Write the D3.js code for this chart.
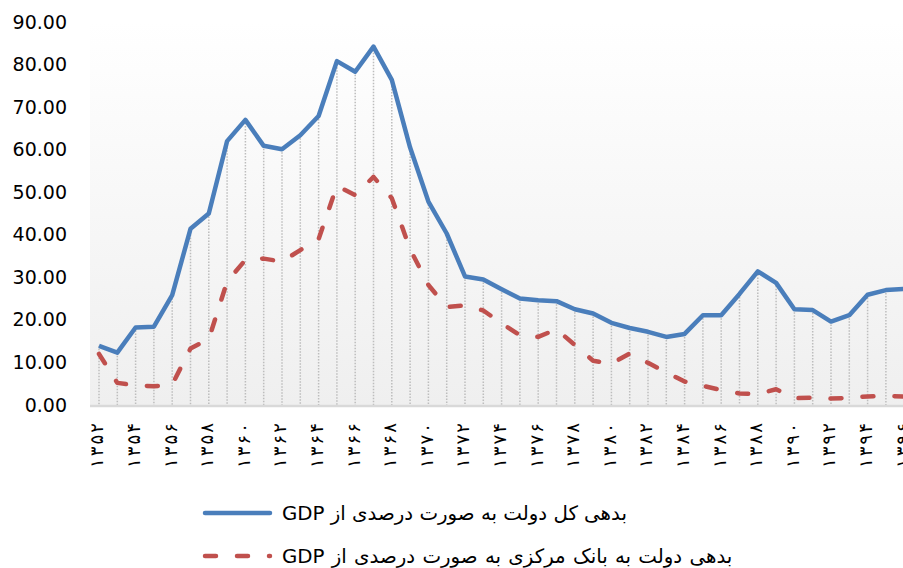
<!DOCTYPE html>
<html>
<head>
<meta charset="utf-8">
<script src="https://cdn.jsdelivr.net/npm/d3@7"></script>
<style>
html,body{margin:0;padding:0;background:#fff;}
svg{display:block;}
</style>
</head>
<body>
<svg id="chart" width="903" height="568"></svg>
<script>
const years = d3.range(1352, 1397);
const totalDebt = [13.9, 12.3, 18.2, 18.4, 25.8, 41.4, 45.0, 62.0, 67.0, 60.9, 60.1, 63.4, 67.9, 80.8, 78.3, 84.2, 76.4, 60.5, 47.8, 40.3, 30.2, 29.5, 27.2, 25.0, 24.6, 24.4, 22.5, 21.5, 19.3, 18.1, 17.2, 16.0, 16.7, 21.1, 21.1, 26.1, 31.4, 28.7, 22.5, 22.3, 19.6, 21.1, 25.9, 27.0, 27.3];
const cbDebt = [12.0, 5.2, 4.6, 4.4, 4.8, 13.3, 15.5, 29.0, 34.1, 34.4, 33.7, 36.4, 39.0, 51.5, 49.3, 53.6, 48.6, 36.6, 28.2, 23.0, 23.4, 22.2, 19.2, 16.4, 16.0, 17.8, 14.1, 10.4, 9.7, 12.1, 9.9, 7.7, 5.5, 4.5, 3.5, 2.7, 2.6, 3.7, 1.6, 1.7, 1.5, 1.7, 2.0, 2.1, 2.0];
const yTicks = [0, 10, 20, 30, 40, 50, 60, 70, 80, 90];
const seriesNames = ["بدهی کل دولت به صورت درصدی از GDP", "بدهی دولت به بانک مرکزی به صورت درصدی از GDP"];
const colors = ["#4a7ebb", "#c0504d"];

const faDigits = "۰۱۲۳۴۵۶۷۸۹";
const toFa = n => String(n).replace(/\d/g, d => faDigits[+d]);

const svg = d3.select("#chart");
const x = d3.scalePoint().domain(years).range([89.85, 913.35]).padding(0.5);
const y = d3.scaleLinear().domain([0, 90]).range([405, 22]);

// plot background gradient
const defs = svg.append("defs");
const grad = defs.append("linearGradient").attr("id", "bg").attr("x1", 0).attr("y1", 0).attr("x2", 0).attr("y2", 1);
grad.append("stop").attr("offset", "0%").attr("stop-color", "#ffffff");
grad.append("stop").attr("offset", "100%").attr("stop-color", "#efefef");
svg.append("rect").attr("x", 90).attr("y", y(90)).attr("width", 830).attr("height", y(0) - y(90)).attr("fill", "url(#bg)");

// drop lines
svg.append("g").selectAll("line").data(years).join("line")
  .attr("x1", d => x(d)).attr("x2", d => x(d))
  .attr("y1", (d, i) => y(Math.max(totalDebt[i], cbDebt[i])))
  .attr("y2", y(0))
  .attr("stroke", "#bdbdbd").attr("stroke-width", 1.5).attr("stroke-dasharray", "1.5,1.5");

// x axis line
svg.append("line").attr("x1", 90).attr("x2", 920).attr("y1", y(0) + 1).attr("y2", y(0) + 1)
  .attr("stroke", "#d9d9d9").attr("stroke-width", 2.5);

// y axis labels
const yAxis = d3.axisLeft(y).tickValues(yTicks).tickFormat(d3.format(".2f")).tickSize(0).tickPadding(0);
const gy = svg.append("g").attr("transform", "translate(67,0)").call(yAxis);
gy.select(".domain").remove();
gy.selectAll("text").attr("font-family", "DejaVu Sans").attr("font-size", "19px").attr("fill", "#000");

// x axis labels
const xAxis = d3.axisBottom(x).tickValues(years.filter((d, i) => i % 2 === 0)).tickFormat(toFa).tickSize(0).tickPadding(0);
const gx = svg.append("g").attr("transform", `translate(-2.5,${y(0)})`).call(xAxis);
gx.select(".domain").remove();
gx.selectAll("text")
  .attr("font-family", "DejaVu Sans").attr("font-size", "18px").attr("fill", "#000")
  .attr("textLength", 45).attr("lengthAdjust", "spacing")
  .attr("transform", "rotate(-90)")
  .attr("x", -18).attr("y", 0).attr("dy", "0.35em")
  .attr("text-anchor", "end");

// lines
const line = d3.line().x((d, i) => x(years[i])).y(d => y(d));
svg.append("path").datum(cbDebt).attr("d", line).attr("fill", "none")
  .attr("stroke", colors[1]).attr("stroke-width", 4.5).attr("stroke-linecap", "round").attr("stroke-linejoin", "round")
  .attr("stroke-dasharray", "11,21");
svg.append("path").datum(totalDebt).attr("d", line).attr("fill", "none")
  .attr("stroke", colors[0]).attr("stroke-width", 4.5).attr("stroke-linejoin", "round");

// legend
const legY = [513, 556];
seriesNames.forEach((name, i) => {
  const g = svg.append("g");
  g.append("line").attr("x1", 205).attr("x2", 270).attr("y1", legY[i]).attr("y2", legY[i])
    .attr("stroke", colors[i]).attr("stroke-width", 4.5).attr("stroke-linecap", "round")
    .attr("stroke-dasharray", i === 1 ? "11,21" : null);
  g.append("text").attr("x", 282).attr("y", legY[i]).attr("dy", "0.35em")
    .attr("direction", "rtl").attr("text-anchor", "end")
    .attr("font-family", "DejaVu Sans").attr("font-size", "19.8px").attr("fill", "#000")
    .attr("word-spacing", i === 1 ? "1px" : null)
    .text(name);
});
</script>
</body>
</html>
